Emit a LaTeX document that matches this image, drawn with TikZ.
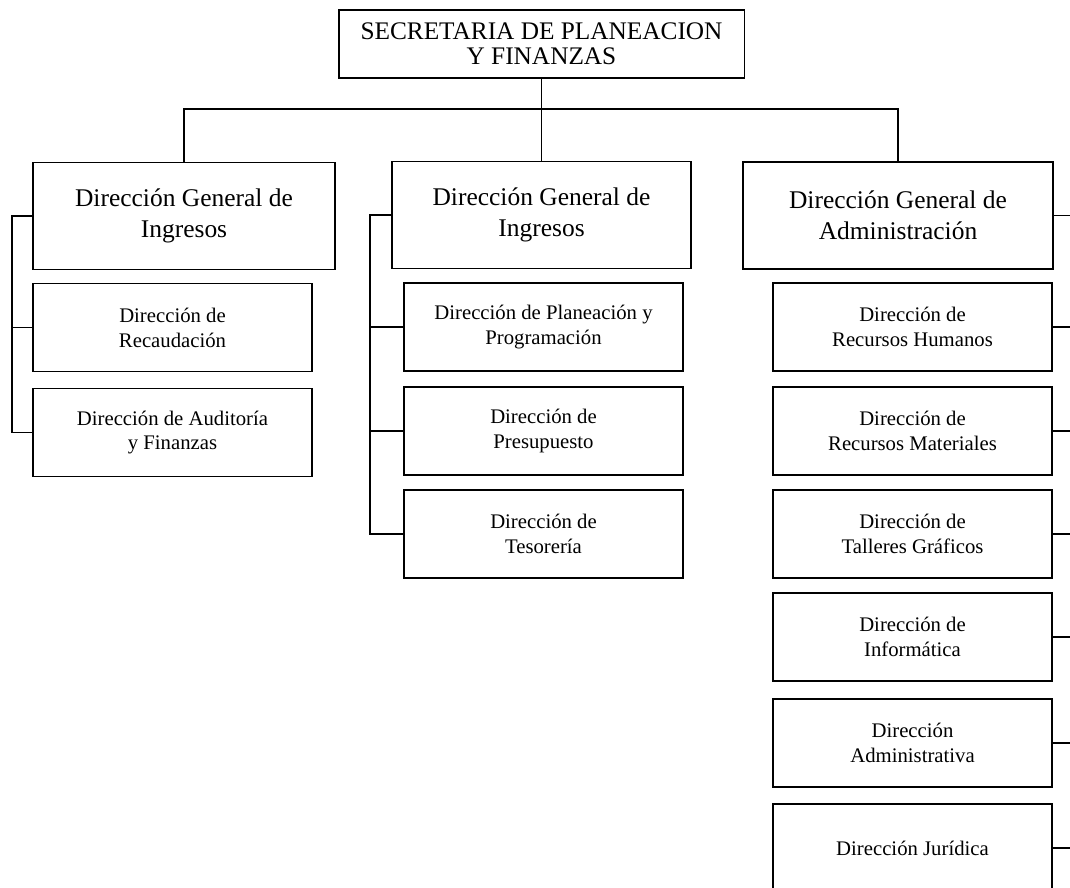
\documentclass[tikz,border=0pt]{standalone}
\usepackage{fontspec}
\setmainfont{Liberation Serif}
\usepackage{tikz}

\begin{document}
\begin{tikzpicture}[x=0.02cm, y=-0.02cm, line width=1.1pt,
  topbox/.style={draw, rectangle, inner sep=0pt, align=center,
    minimum width=8.12cm, minimum height=1.36cm, font=\fontsize{14.4}{14}\selectfont},
  genbox/.style={draw, rectangle, inner sep=0pt, align=center,
    minimum width=6.04cm, minimum height=2.14cm, font=\fontsize{14.5}{17.6}\selectfont},
  subbox/.style={draw, rectangle, inner sep=0pt, align=center,
    minimum width=5.58cm, minimum height=1.76cm, font=\fontsize{11.8}{14.2}\selectfont}]

\useasboundingbox (0,0) rectangle (1070,887);

% Head
\node[topbox] (sec) at (541.5,44) {SECRETARIA DE PLANEACION\\Y FINANZAS};

% General directions
\node[genbox] (g1) at (184,216) {Dirección General de\\Ingresos};
\node[genbox, minimum width=5.98cm] (g2) at (541.5,215) {Dirección General de\\Ingresos};
\node[genbox, minimum width=6.2cm] (g3) at (898,215.5) {Dirección General de\\Administración};

% Column 1
\node[subbox] (s11) at (172.5,327.5) {Dirección de\\Recaudación};
\node[subbox] (s12) at (172.5,432.5) {Dirección de Auditoría\\y Finanzas};

% Column 2
\node[subbox] (s21) at (543.5,327) {Dirección de Planeación y\\Programación};
\node[subbox] (s22) at (543.5,431) {Dirección de\\Presupuesto};
\node[subbox] (s23) at (543.5,534) {Dirección de\\Tesorería};

% Column 3
\node[subbox] (s31) at (912.5,327) {Dirección de\\Recursos Humanos};
\node[subbox] (s32) at (912.5,431) {Dirección de\\Recursos Materiales};
\node[subbox] (s33) at (912.5,534) {Dirección de\\Talleres Gráficos};
\node[subbox] (s34) at (912.5,637) {Dirección de\\Informática};
\node[subbox] (s35) at (912.5,743) {Dirección\\Administrativa};
\node[subbox] (s36) at (912.5,848) {Dirección Jurídica};

% Lines from the head
\coordinate (bus) at (541.5,109);
\draw (sec.south) -- (g2.north);
\draw (g1.north) |- (bus) -| (g3.north);

% Left brackets
\coordinate (b1) at (12,0);
\coordinate (b2) at (370,0);
\draw (g1.west) -- (g1.west -| b1) -- (b1 |- s12.west) -- (s12.west);
\draw (b1 |- s11.west) -- (s11.west);
\draw (g2.west) -- (g2.west -| b2) -- (b2 |- s23.west) -- (s23.west);
\draw (b2 |- s21.west) -- (s21.west);
\draw (b2 |- s22.west) -- (s22.west);

% Right ticks
\coordinate (b3) at (1070,0);
\foreach \n in {g3,s31,s32,s33,s34,s35,s36}
  \draw (\n.east) -- (\n.east -| b3);

\end{tikzpicture}
\end{document}
